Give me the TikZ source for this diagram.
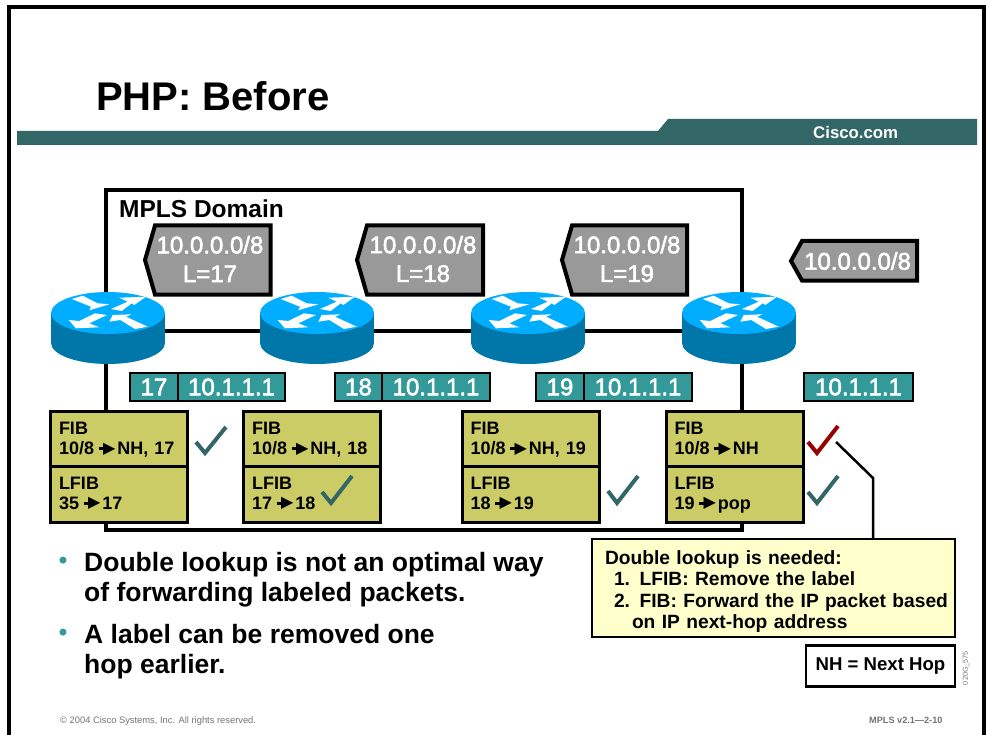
\documentclass[tikz,border=0pt]{standalone}
\usepackage{fontspec}
\usepackage{xcolor}
\setmainfont{Liberation Sans}
\newfontfamily\arrowfont{DejaVu Sans}
\newfontfamily\whitefont[FakeBold=2.2]{Liberation Sans}
\newcommand{\tablearrow}{\hspace{4.5pt}\rule[4.6pt]{6pt}{3pt}\kern-1.5pt\raisebox{1.6pt}{\arrowfont\fontsize{16}{16}\selectfont ▶}\kern-1pt\hspace{3pt}}
\newcommand{\tablerows}[3]{\rule{0pt}{#1pt}#2\\#3\rule[-6pt]{0pt}{6pt}}
\definecolor{barteal}{HTML}{336666}
\definecolor{packetteal}{HTML}{339999}
\definecolor{tablegold}{HTML}{CCCC66}
\definecolor{notecream}{HTML}{FFFFCC}
\definecolor{tickred}{HTML}{990000}
\definecolor{routertop}{HTML}{00ADFF}
\definecolor{routerside}{HTML}{0077A8}
\begin{document}
\begin{tikzpicture}[
    x=1pt, y=-1pt,
    frameline/.style={line width=4pt, black},
    domainbox/.style={rectangle, draw, line width=4pt, anchor=north west, inner sep=0pt, outer sep=0pt, minimum width=636pt, minimum height=340pt},
    link/.style={line width=4pt},
    tag/.style={draw=black, fill=black!40, line width=4pt, miter limit=10},
    tagtext/.style={align=center, text=white, inner sep=0pt, font=\whitefont\fontsize{24}{28.7}\selectfont},
    packet/.style={rectangle, draw=black, fill=packetteal, line width=2pt, text=white, anchor=north west, inner sep=0pt, outer sep=0pt, minimum height=28pt, font=\whitefont\fontsize{24}{28}\selectfont},
    tablebox/.style={rectangle, draw=black, fill=tablegold, line width=3pt, anchor=north west, inner sep=0pt, outer sep=0pt, minimum width=137pt, minimum height=55.5pt, text width=120pt, align=left, font=\fontsize{18}{20}\selectfont\bfseries},
    tick/.style={line width=4pt, draw=barteal},
    leader/.style={line width=2.5pt},
    bullettext/.style={anchor=north west, inner sep=0pt, align=left, font=\fontsize{26.5}{30}\selectfont\bfseries},
    bulletdot/.style={inner sep=0pt, text=packetteal, font=\fontsize{24}{26}\selectfont\bfseries},
    pics/router/.style={code={
        \fill[routerside] (-57,-18) rectangle (57,12);
        \fill[routerside] (0,12) ellipse [x radius=57pt, y radius=21pt];
        \fill[routertop] (0,-18) ellipse [x radius=57pt, y radius=21pt];
        \fill[white] (-36.3,-32) -- (-25.3,-35.3) -- (-10.3,-27.7) -- (1.3,-26.7) -- (-18.7,-20.7) -- (-17,-24.3) -- cycle;
        \fill[white] (3,-22) -- (19.7,-29.3) -- (11.3,-33.3) -- (38,-34.3) -- (26.3,-26) -- (23.7,-27.7) -- (13.7,-20) -- cycle;
        \fill[white] (-13,-17.7) -- (-1,-16) -- (-18.7,-7.7) -- (-8.7,-3.7) -- (-32,-2.7) -- (-39.3,-11) -- (-28.7,-10) -- cycle;
        \fill[white] (39.7,-4.3) -- (27,-2) -- (12.3,-11) -- (1.3,-9.3) -- (4.7,-16) -- (23.7,-16.7) -- (18,-14.3) -- cycle;
    }}
]
\useasboundingbox (0,0) rectangle (987,735);

% Slide frame and title bar
\draw[frameline] (9,735) -- (9,7) -- (984,7) -- (984,735);
\fill[barteal] (17,145) -- (17,131) -- (658,131) -- (668,119) -- (977,119) -- (977,145) -- cycle;
\node[anchor=base west, inner sep=0pt, font=\fontsize{40}{44}\selectfont\bfseries] (title) at (96,111) {PHP: Before};
\node[anchor=base west, inner sep=0pt, text=white, font=\fontsize{16.8}{20}\selectfont\bfseries] (cisco) at (813,139) {Cisco.com};

% MPLS domain
\node[domainbox] (domain) at (106,190) {};
\node[anchor=base west, inner sep=0pt, font=\fontsize{24.5}{28}\selectfont\bfseries] (domainname) at (119,218) {MPLS Domain};

% Labels
\draw[tag] (145,260) -- (155,225.5) -- (270.5,225.5) -- (270.5,294.5) -- (155,294.5) -- cycle;
\node[tagtext] (tag17) at (210,259) {10.0.0.0/8\\L=17};
\draw[tag] (357,260) -- (367,225.5) -- (483,225.5) -- (483,294.5) -- (367,294.5) -- cycle;
\node[tagtext] (tag18) at (423,259) {10.0.0.0/8\\L=18};
\draw[tag] (562,260) -- (572,225.5) -- (687,225.5) -- (687,294.5) -- (572,294.5) -- cycle;
\node[tagtext] (tag19) at (627,259) {10.0.0.0/8\\L=19};
\draw[tag] (791,261) -- (802,241) -- (917,241) -- (917,280.5) -- (802,280.5) -- cycle;
\node[tagtext] (tagip) at (857.5,261) {10.0.0.0/8};

% Routers
\coordinate (r1) at (108,331);
\coordinate (r2) at (317,331);
\coordinate (r3) at (528,331);
\coordinate (r4) at (739,331);
\draw[link] (r1) -- (r2);
\draw[link] (r2) -- (r3);
\draw[link] (r3) -- (r4);
\pic at (r1) {router};
\pic at (r2) {router};
\pic at (r3) {router};
\pic at (r4) {router};

% Packets
\node[packet, minimum width=48pt] (label17) at (130,373) {17};
\node[packet, minimum width=107pt] (addr17) at (178,373) {10.1.1.1};
\node[packet, minimum width=47pt] (label18) at (335,373) {18};
\node[packet, minimum width=108pt] (addr18) at (382,373) {10.1.1.1};
\node[packet, minimum width=48pt] (label19) at (536,373) {19};
\node[packet, minimum width=108pt] (addr19) at (584,373) {10.1.1.1};
\node[packet, minimum width=109pt] (addrip) at (804,373) {10.1.1.1};

% Forwarding tables
\node[tablebox] (fib1) at (50.5,411) {\tablerows{18}{FIB}{10/8\tablearrow NH, 17}};
\node[tablebox] (lfib1) at (50.5,466.5) {\tablerows{16}{LFIB}{35\tablearrow 17}};
\node[tablebox] (fib2) at (243.5,411) {\tablerows{18}{FIB}{10/8\tablearrow NH, 18}};
\node[tablebox] (lfib2) at (243.5,466.5) {\tablerows{16}{LFIB}{17\tablearrow 18}};
\node[tablebox] (fib3) at (462,411) {\tablerows{18}{FIB}{10/8\tablearrow NH, 19}};
\node[tablebox] (lfib3) at (462,466.5) {\tablerows{16}{LFIB}{18\tablearrow 19}};
\node[tablebox] (fib4) at (666,411) {\tablerows{18}{FIB}{10/8\tablearrow NH}};
\node[tablebox] (lfib4) at (666,466.5) {\tablerows{16}{LFIB}{19\tablearrow pop}};

% Check marks
\draw[tick] (196,442) -- (205,453) -- (226,427);
\draw[tick] (322,492) -- (331,503) -- (352,476);
\draw[tick] (608,491) -- (617,503) -- (638,476);
\draw[tick, draw=tickred] (808,442) -- (817,453) -- (838,426);
\draw[tick] (808,492) -- (817,503) -- (838,476);

% Note
\node[rectangle, draw, fill=notecream, line width=2.5pt, anchor=north west, inner sep=0pt, outer sep=0pt, minimum width=363pt, minimum height=98pt, text width=356pt, align=left, font=\fontsize{19.2}{21.3}\selectfont\bfseries] (note) at (592,539)
    {\rule{0pt}{21pt}\hspace*{9.5pt}Double lookup is needed:\\\hspace*{18.5pt}1. LFIB: Remove the label\\\hspace*{18.5pt}2. FIB: Forward the IP packet based\\\hspace*{36.5pt}on IP next-hop address};
\coordinate (tickend) at (836,442);
\coordinate (leaderbend) at (873,478);
\draw[leader] (tickend) -- (leaderbend) -- (leaderbend |- note.north);
\node[rectangle, draw, fill=white, line width=2.5pt, anchor=north west, inner sep=0pt, outer sep=0pt, minimum width=149pt, minimum height=41pt, font=\fontsize{18.6}{22}\selectfont\bfseries] (nh) at (806,645.5) {NH = Next Hop};

% Bullets
\node[bulletdot] (dot1) at (63,563) {•};
\node[bullettext] (point1) at (84,552) {Double lookup is not an optimal way\\of forwarding labeled packets.};
\node[bulletdot] (dot2) at (63,635) {•};
\node[bullettext] (point2) at (84,624) {A label can be removed one\\hop earlier.};

% Footer
\node[anchor=base west, inner sep=0pt, text=black!55, font=\fontsize{9.35}{11}\selectfont] (copyright) at (60,723) {© 2004 Cisco Systems, Inc. All rights reserved.};
\node[anchor=base west, inner sep=0pt, text=black!55, font=\fontsize{9.15}{11}\selectfont\bfseries] (course) at (869,723) {MPLS v2.1—2-10};
\node[rotate=90, inner sep=0pt, text=black!55, font=\fontsize{7.3}{9}\selectfont] (figcode) at (966,668) {020G\_575};
\end{tikzpicture}
\end{document}
